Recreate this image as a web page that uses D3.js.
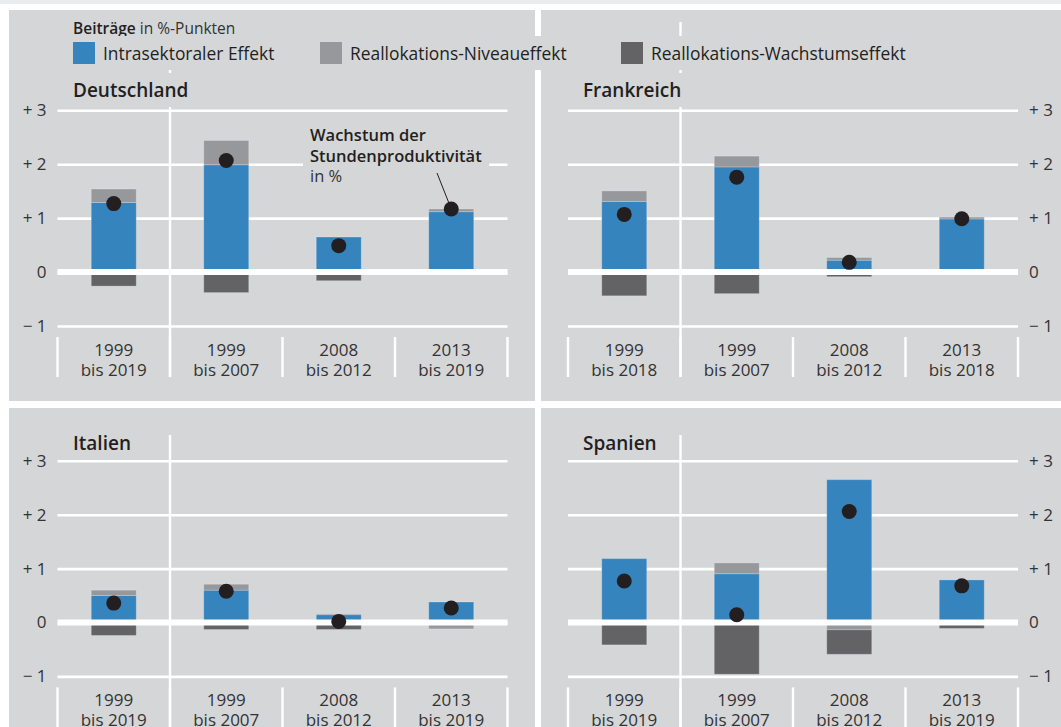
<!DOCTYPE html>
<html>
<head>
<meta charset="utf-8">
<script src="https://cdn.jsdelivr.net/npm/d3@7"></script>
<style>
  body { margin: 0; background: #fff; }
  svg { display: block; font-family: "Open Sans", "Noto Sans", sans-serif; }
</style>
</head>
<body>
<svg id="chart" width="1061" height="727"></svg>
<script>
// categories (two text lines each, split at "|")
var catsDE = ["1999|bis 2019", "1999|bis 2007", "2008|bis 2012", "2013|bis 2019"];
var catsFR = ["1999|bis 2018", "1999|bis 2007", "2008|bis 2012", "2013|bis 2018"];
var catsIT = ["1999|bis 2019", "1999|bis 2007", "2008|bis 2012", "2013|bis 2019"];
var catsES = ["1999|bis 2019", "1999|bis 2007", "2008|bis 2012", "2013|bis 2019"];

// contributions in %-points
var intraDE = [1.29, 1.99, 0.65, 1.12];
var levelDE = [0.25, 0.45, 0.0, 0.05];
var growthDE = [-0.26, -0.38, -0.16, 0.0];
var totalDE = [1.27, 2.07, 0.49, 1.17];

var intraFR = [1.31, 1.95, 0.22, 0.985];
var levelFR = [0.195, 0.2, 0.05, 0.035];
var growthFR = [-0.44, -0.4, -0.085, 0.0];
var totalFR = [1.07, 1.76, 0.18, 0.99];

var intraIT = [0.5, 0.6, 0.145, 0.38];
var levelIT = [0.1, 0.11, 0.015, -0.11];
var growthIT = [-0.24, -0.13, -0.13, -0.01];
var totalIT = [0.36, 0.58, 0.02, 0.27];

var intraES = [1.185, 0.905, 2.65, 0.79];
var levelES = [0.0, 0.2, -0.135, 0.0];
var growthES = [-0.415, -0.96, -0.455, -0.11];
var totalES = [0.77, 0.145, 2.06, 0.68];

var yTicks = [-1, 0, 1, 2, 3];
var yTickLabels = ["\u2212 1", "0", "+ 1", "+ 2", "+ 3"];
var legendLabels = ["Intrasektoraler Effekt", "Reallokations-Niveaueffekt", "Reallokations-Wachstumseffekt"];

var colors = ["#3584bd", "#97989b", "#636366"];
var panelBg = "#d5d6d8";

var svg = d3.select("#chart");

svg.append("rect").attr("x", 0).attr("y", 0).attr("width", 1061).attr("height", 4).attr("fill", "#ebecee");

var panels = [
  { title: "Deutschland", cats: catsDE, intra: intraDE, level: levelDE, growth: growthDE, total: totalDE,
    box: [9, 10, 535, 401], xr: [57.5, 507.5], yr: [326, 110.3], side: "left", titleY: 97, lineTop: 22 },
  { title: "Frankreich", cats: catsFR, intra: intraFR, level: levelFR, growth: growthFR, total: totalFR,
    box: [541, 10, 1061, 401], xr: [568, 1018], yr: [326, 110.3], side: "right", titleY: 97, lineTop: 22 },
  { title: "Italien", cats: catsIT, intra: intraIT, level: levelIT, growth: growthIT, total: totalIT,
    box: [9, 408, 535, 727], xr: [57.5, 507.5], yr: [676.4, 460.8], side: "left", titleY: 450, lineTop: 435 },
  { title: "Spanien", cats: catsES, intra: intraES, level: levelES, growth: growthES, total: totalES,
    box: [541, 408, 1061, 727], xr: [568, 1018], yr: [676.4, 460.8], side: "right", titleY: 450, lineTop: 435 }
];

// put a panel-coloured box behind a text group so that lines stop there
function backBox(g, node, padX, padY) {
  var b = node.getBBox();
  g.insert("rect", function() { return node; })
    .attr("x", b.x - padX).attr("y", b.y - padY)
    .attr("width", b.width + 2 * padX).attr("height", b.height + 2 * padY)
    .attr("fill", panelBg);
}

panels.forEach(function(p) {
  var g = svg.append("g");
  g.append("rect")
    .attr("x", p.box[0]).attr("y", p.box[1])
    .attr("width", p.box[2] - p.box[0]).attr("height", p.box[3] - p.box[1])
    .attr("fill", panelBg);

  var x = d3.scaleBand().domain(p.cats).range(p.xr);
  var y = d3.scaleLinear().domain([-1, 3]).range(p.yr);
  var w = p.xr[1] - p.xr[0];

  var axis = (p.side === "left" ? d3.axisLeft(y) : d3.axisRight(y))
    .tickValues(yTicks)
    .tickFormat(function(d, i) { return yTickLabels[i]; })
    .tickSize(-w)
    .tickPadding(11);

  var ax = g.append("g")
    .attr("transform", "translate(" + (p.side === "left" ? p.xr[0] : p.xr[1]) + ",0)")
    .call(axis);
  ax.select(".domain").remove();
  ax.selectAll("line").attr("stroke", "#fff").attr("stroke-width", 2.6);
  ax.selectAll("text")
    .attr("fill", "#333")
    .style("font-size", "17px")
    .style("font-family", "'Open Sans', sans-serif");

  // long divider after the first period
  var xDiv = x(p.cats[1]);
  var yBottom = y(-1);
  g.append("line")
    .attr("x1", xDiv).attr("x2", xDiv)
    .attr("y1", p.lineTop).attr("y2", Math.min(yBottom + 51, p.box[3]))
    .attr("stroke", "#fff").attr("stroke-width", 2.4);

  // category separators
  var bounds = p.cats.map(function(c) { return x(c); }).concat([p.xr[1]]);
  g.selectAll(".sep").data(bounds).enter().append("line")
    .attr("x1", function(d) { return d; }).attr("x2", function(d) { return d; })
    .attr("y1", yBottom + 11).attr("y2", Math.min(yBottom + 51, p.box[3]))
    .attr("stroke", "#fff").attr("stroke-width", 2.4);

  // category labels
  var lab = g.selectAll(".cat").data(p.cats).enter().append("text")
    .attr("text-anchor", "middle")
    .attr("fill", "#333")
    .style("font-size", "17px");
  lab.append("tspan")
    .attr("x", function(d) { return x(d) + x.bandwidth() / 2; })
    .attr("y", yBottom + 30)
    .text(function(d) { return d.split("|")[0]; });
  lab.append("tspan")
    .attr("x", function(d) { return x(d) + x.bandwidth() / 2; })
    .attr("y", yBottom + 49.5)
    .text(function(d) { return d.split("|")[1]; });

  // stacked segments
  var segs = [];
  p.cats.forEach(function(c, i) {
    var pos = 0, neg = 0;
    [p.intra[i], p.level[i], p.growth[i]].forEach(function(v, k) {
      if (v === 0) return;
      var a, b;
      if (v > 0) { a = pos; b = pos + v; pos = b; } else { a = neg; b = neg + v; neg = b; }
      segs.push({ cat: c, y0: a, y1: b, k: k });
    });
  });
  var bw = x.bandwidth() * 0.4;
  g.selectAll(".seg").data(segs).enter().append("rect")
    .attr("x", function(d) { return x(d.cat) + (x.bandwidth() - bw) / 2; })
    .attr("width", bw)
    .attr("y", function(d) { return y(Math.max(d.y0, d.y1)); })
    .attr("height", function(d) { return Math.abs(y(d.y0) - y(d.y1)); })
    .attr("fill", function(d) { return colors[d.k]; })
    .attr("stroke", "#fff").attr("stroke-opacity", 0.22).attr("stroke-width", 1);

  // thick zero line
  g.append("line")
    .attr("x1", p.xr[0]).attr("x2", p.xr[1])
    .attr("y1", y(0)).attr("y2", y(0))
    .attr("stroke", "#fff").attr("stroke-width", 6);

  // annotation (Germany only)
  if (p.title === "Deutschland") {
    var ann = g.append("text").attr("fill", "#231f20").style("font-size", "16.5px");
    ann.append("tspan").attr("x", 310).attr("y", 141).style("font-weight", 600).text("Wachstum der");
    ann.append("tspan").attr("x", 310).attr("y", 162).style("font-weight", 600).text("Stundenproduktivit\u00e4t");
    ann.append("tspan").attr("x", 310).attr("y", 182).attr("fill", "#333").text("in %");
    backBox(g, ann.node(), 7, 3);
    var lastCat = p.cats[3];
    g.append("line")
      .attr("x1", 437).attr("y1", 173)
      .attr("x2", x(lastCat) + x.bandwidth() / 2).attr("y2", y(p.total[3]))
      .attr("stroke", "#231f20").attr("stroke-width", 1);
  }

  // dots: productivity growth
  g.selectAll(".dot").data(p.cats).enter().append("circle")
    .attr("cx", function(d) { return x(d) + x.bandwidth() / 2; })
    .attr("cy", function(d, i) { return y(p.total[i]); })
    .attr("r", 7.5)
    .attr("fill", "#231f20");

  // title
  var tx = p.side === "left" ? 73 : 583;
  var t = g.append("text")
    .attr("x", tx).attr("y", p.titleY)
    .attr("fill", "#231f20")
    .style("font-size", "19px").style("font-weight", 600)
    .text(p.title);
  backBox(g, t.node(), 5, 4);
});

// legend on top
var lg = svg.append("g");
var head = lg.append("text").attr("x", 73).attr("y", 34).attr("fill", "#333").style("font-size", "15.5px");
head.append("tspan").style("font-weight", 600).attr("fill", "#231f20").text("Beitr\u00e4ge");
head.append("tspan").text(" in %-Punkten");
backBox(lg, head.node(), 5, 4);

var legendX = [73, 320, 621];
legendLabels.forEach(function(l, i) {
  var item = lg.append("g");
  item.append("rect")
    .attr("x", legendX[i]).attr("y", 42).attr("width", 22).attr("height", 22)
    .attr("fill", colors[i]);
  item.append("text")
    .attr("x", legendX[i] + 30).attr("y", 60)
    .attr("fill", "#231f20")
    .style("font-size", "17.4px").style("font-weight", 500)
    .text(l);
  backBox(lg, item.node(), 5, 5);
});
</script>
</body>
</html>
